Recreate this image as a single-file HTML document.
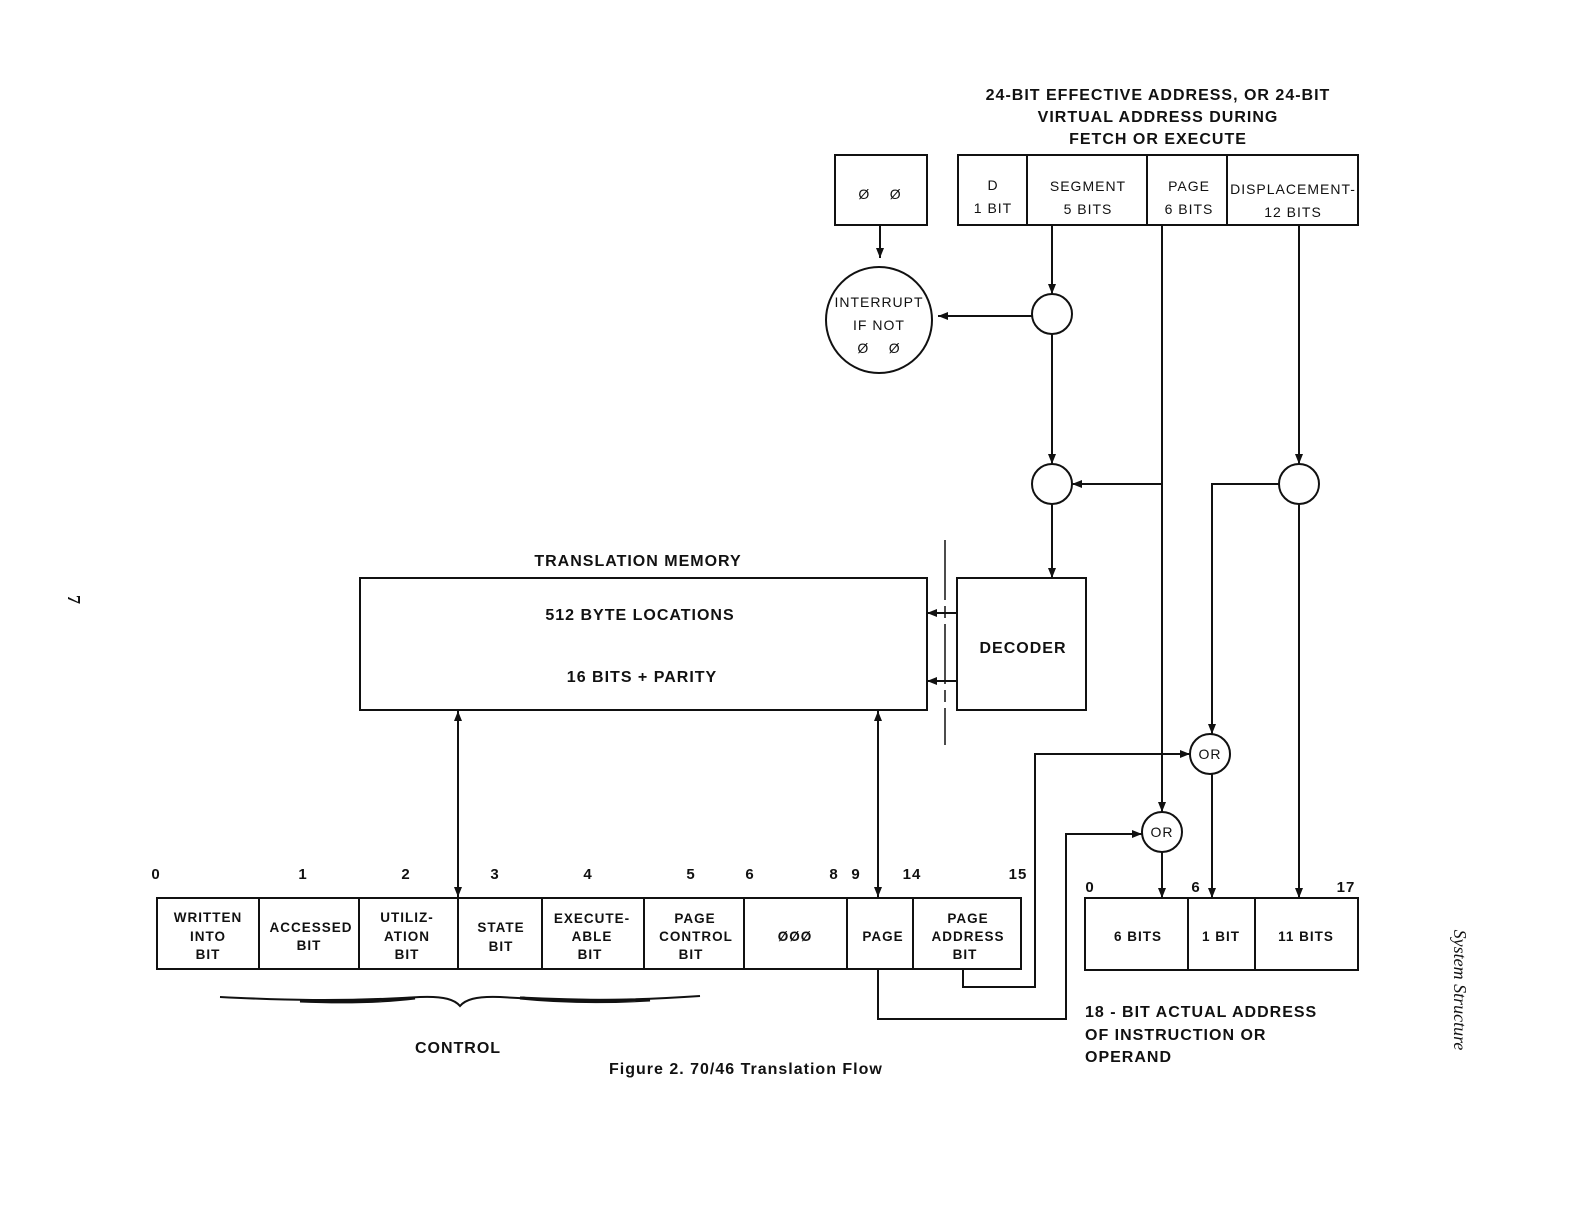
<!DOCTYPE html>
<html><head><meta charset="utf-8"><style>
html,body{margin:0;padding:0;background:#fff}
svg{display:block}
text{font-family:"Liberation Sans",sans-serif;font-weight:bold;fill:#111;letter-spacing:1px}
.n{font-weight:normal}
</style></head><body>
<svg width="1584" height="1224" viewBox="0 0 1584 1224" xmlns="http://www.w3.org/2000/svg">
<defs>
<marker id="b" viewBox="0 0 10 10" refX="10" refY="5" markerWidth="16" markerHeight="10" orient="auto-start-reverse" markerUnits="userSpaceOnUse"><path d="M0,1 L10,5 L0,9 z" fill="#111"/></marker>
</defs>
<g stroke="#111" stroke-width="2" fill="none">
<rect x="958" y="155" width="400" height="70"/>
<line x1="1027" y1="155" x2="1027" y2="225"/>
<line x1="1147" y1="155" x2="1147" y2="225"/>
<line x1="1227" y1="155" x2="1227" y2="225"/>
<rect x="835" y="155" width="92" height="70"/>
<line x1="880" y1="225" x2="880" y2="258" marker-end="url(#b)"/>
<circle cx="879" cy="320" r="53"/>
<circle cx="1052" cy="314" r="20"/>
<line x1="1052" y1="225" x2="1052" y2="294" marker-end="url(#b)"/>
<line x1="1032" y1="316" x2="938" y2="316" marker-end="url(#b)"/>
<line x1="1052" y1="334" x2="1052" y2="464" marker-end="url(#b)"/>
<circle cx="1052" cy="484" r="20"/>
<line x1="1162" y1="225" x2="1162" y2="812" marker-end="url(#b)"/>
<line x1="1162" y1="484" x2="1072" y2="484" marker-end="url(#b)"/>
<circle cx="1299" cy="484" r="20"/>
<line x1="1299" y1="225" x2="1299" y2="464" marker-end="url(#b)"/>
<polyline points="1279,484 1212,484 1212,734" marker-end="url(#b)"/>
<line x1="1299" y1="504" x2="1299" y2="898" marker-end="url(#b)"/>
<line x1="1052" y1="504" x2="1052" y2="578" marker-end="url(#b)"/>
<rect x="360" y="578" width="567" height="132"/>
<rect x="957" y="578" width="129" height="132"/>
<line x1="957" y1="613" x2="927" y2="613" marker-end="url(#b)"/>
<line x1="957" y1="681" x2="927" y2="681" marker-end="url(#b)"/>
<line x1="945" y1="540" x2="945" y2="745" stroke-dasharray="60,6,12,6" stroke-width="1.5"/>
<circle cx="1210" cy="754" r="20"/>
<circle cx="1162" cy="832" r="20"/>
<polyline points="963,970 963,987 1035,987 1035,754 1190,754" marker-end="url(#b)"/>
<polyline points="878,970 878,1019 1066,1019 1066,834 1142,834" marker-end="url(#b)"/>
<line x1="1162" y1="852" x2="1162" y2="898" marker-end="url(#b)"/>
<line x1="1212" y1="774" x2="1212" y2="898" marker-end="url(#b)"/>
<rect x="1085" y="898" width="273" height="72"/>
<line x1="1188" y1="898" x2="1188" y2="970"/>
<line x1="1255" y1="898" x2="1255" y2="970"/>
<rect x="157" y="898" width="864" height="71"/>
<line x1="259" y1="898" x2="259" y2="969"/>
<line x1="359" y1="898" x2="359" y2="969"/>
<line x1="458" y1="898" x2="458" y2="969"/>
<line x1="542" y1="898" x2="542" y2="969"/>
<line x1="644" y1="898" x2="644" y2="969"/>
<line x1="744" y1="898" x2="744" y2="969"/>
<line x1="847" y1="898" x2="847" y2="969"/>
<line x1="913" y1="898" x2="913" y2="969"/>
<line x1="458" y1="711" x2="458" y2="897" marker-start="url(#b)" marker-end="url(#b)"/>
<line x1="878" y1="711" x2="878" y2="897" marker-start="url(#b)" marker-end="url(#b)"/>
</g>
<path d="M220,997 C280,1000 340,1002 420,997 C445,996 455,1000 460,1006 C465,1000 475,996 500,997 C580,1002 640,1000 700,996" stroke="#111" stroke-width="2" fill="none"/>
<path d="M300,1001 C350,1003 390,1001 415,998 C390,1000 350,1001 300,1001z M520,998 C560,1002 600,1003 650,1000 C600,1001 560,1000 520,998z" stroke="#111" stroke-width="3" fill="#111"/>
<g font-size="16" text-anchor="middle">
<text x="1158" y="100">24-BIT EFFECTIVE ADDRESS, OR 24-BIT</text>
<text x="1158" y="122">VIRTUAL ADDRESS DURING</text>
<text x="1158" y="144">FETCH OR EXECUTE</text>
</g>
<g font-size="14" text-anchor="middle">
<text class="n" x="993" y="190">D</text>
<text class="n" x="993" y="213">1 BIT</text>
<text class="n" x="1088" y="191">SEGMENT</text>
<text class="n" x="1088" y="214">5 BITS</text>
<text class="n" x="1189" y="191">PAGE</text>
<text class="n" x="1189" y="214">6 BITS</text>
<text class="n" x="1293" y="194">DISPLACEMENT-</text>
<text class="n" x="1293" y="217">12 BITS</text>
<text class="n" x="880" y="199">Ø&#160;&#160;&#160;&#160;Ø</text>
<text class="n" x="879" y="307">INTERRUPT</text>
<text class="n" x="879" y="330">IF NOT</text>
<text class="n" x="879" y="353">Ø&#160;&#160;&#160;&#160;Ø</text>
<text class="n" x="1210" y="759">OR</text>
<text class="n" x="1162" y="837">OR</text>
</g>
<g font-size="16" text-anchor="middle">
<text x="638" y="566">TRANSLATION MEMORY</text>
<text x="640" y="620">512 BYTE LOCATIONS</text>
<text x="642" y="682">16 BITS + PARITY</text>
<text x="1023" y="653">DECODER</text>
<text x="458" y="1053">CONTROL</text>
</g>
<text x="609" y="1074" font-size="16">Figure 2. 70/46 Translation Flow</text>
<g font-size="16">
<text x="1085" y="1017">18 - BIT ACTUAL ADDRESS</text>
<text x="1085" y="1040">OF INSTRUCTION OR</text>
<text x="1085" y="1062">OPERAND</text>
</g>
<g font-size="15" text-anchor="middle">
<text x="156" y="879">0</text><text x="303" y="879">1</text><text x="406" y="879">2</text>
<text x="495" y="879">3</text><text x="588" y="879">4</text><text x="691" y="879">5</text>
<text x="750" y="879">6</text><text x="834" y="879">8</text><text x="856" y="879">9</text>
<text x="912" y="879">14</text><text x="1018" y="879">15</text>
<text x="1090" y="892">0</text><text x="1196" y="892">6</text><text x="1346" y="892">17</text>
</g>
<g font-size="13.5" text-anchor="middle">
<text x="208" y="922">WRITTEN</text><text x="208" y="941">INTO</text><text x="208" y="959">BIT</text>
<text x="311" y="932">ACCESSED</text><text x="309" y="950">BIT</text>
<text x="407" y="922">UTILIZ-</text><text x="407" y="941">ATION</text><text x="407" y="959">BIT</text>
<text x="501" y="932">STATE</text><text x="501" y="951">BIT</text>
<text x="592" y="923">EXECUTE-</text><text x="592" y="941">ABLE</text><text x="590" y="959">BIT</text>
<text x="695" y="923">PAGE</text><text x="696" y="941">CONTROL</text><text x="691" y="959">BIT</text>
<text x="795" y="941">ØØØ</text>
<text x="883" y="941">PAGE</text>
<text x="968" y="923">PAGE</text><text x="968" y="941">ADDRESS</text><text x="965" y="959">BIT</text>
<text x="1138" y="941">6 BITS</text>
<text x="1221" y="941">1 BIT</text>
<text x="1306" y="941">11 BITS</text>
</g>
<text x="1454" y="990" font-size="18" text-anchor="middle" transform="rotate(90 1454 990)" style="font-family:'Liberation Serif',serif;font-style:italic;font-weight:normal;letter-spacing:0">System Structure</text>
<text x="68" y="600" font-size="18" text-anchor="middle" transform="rotate(90 68 600)" style="font-family:'Liberation Serif',serif;font-weight:bold">7</text>
</svg>
</body></html>
